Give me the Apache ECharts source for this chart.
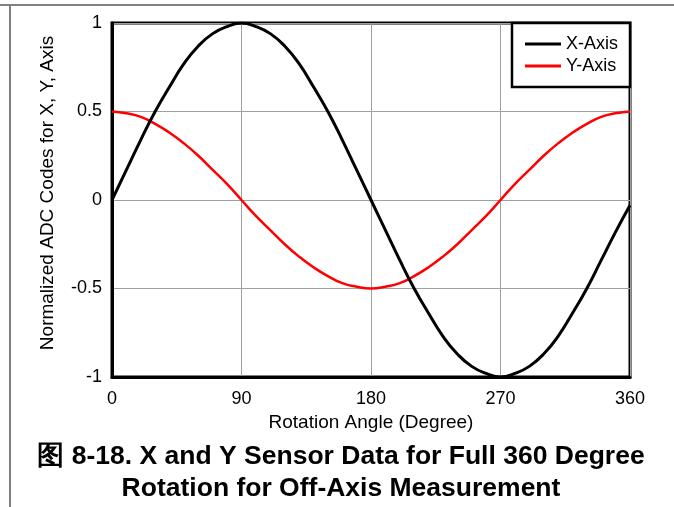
<!DOCTYPE html>
<html>
<head>
<meta charset="utf-8">
<script src="https://cdn.jsdelivr.net/npm/echarts@6/dist/echarts.min.js"></script>
<style>html,body{margin:0;padding:0;background:#fff}#c{width:674px;height:507px}</style>
</head>
<body>
<div id="c"></div>
<script>
var angles = [0,10,20,30,40,50,60,70,80,90,100,110,120,130,140,150,160,170,180,190,200,210,220,230,240,250,260,270,280,290,300,310,320,330,340,350,360];
var xAxisVals = [0,0.17,0.34,0.5,0.64,0.77,0.87,0.94,0.98,1,0.98,0.94,0.87,0.77,0.64,0.5,0.34,0.17,0,-0.17,-0.34,-0.5,-0.64,-0.77,-0.87,-0.94,-0.98,-1,-0.98,-0.94,-0.87,-0.77,-0.64,-0.5,-0.34,-0.18,-0.03];
var yAxisVals = [0.5,0.49,0.47,0.43,0.38,0.32,0.25,0.17,0.09,0,-0.09,-0.17,-0.25,-0.32,-0.38,-0.43,-0.47,-0.49,-0.5,-0.49,-0.47,-0.43,-0.38,-0.32,-0.25,-0.17,-0.09,0,0.09,0.17,0.25,0.32,0.38,0.43,0.47,0.49,0.5];
var seriesNames = ['X-Axis','Y-Axis'];
var xTicks = [0,90,180,270,360];
var yTicks = [-1,-0.5,0,0.5,1];
var xName = 'Rotation Angle (Degree)';
var yName = 'Normalized ADC Codes for X, Y, Axis';
var captionLines = ['图 8-18. X and Y Sensor Data for Full 360 Degree','Rotation for Off-Axis Measurement'];

function pairs(xs, ys){ return xs.map(function(a,i){ return [a, ys[i]]; }); }

var chart = echarts.init(document.getElementById('c'), null, {renderer:'canvas'});
var font = 'Arial, "Liberation Sans", sans-serif';
chart.setOption({
  animation:false,
  backgroundColor:'#fff',
  textStyle:{fontFamily:font},
  grid:{left:112,right:44,top:23,bottom:130,show:true,borderColor:'#000',borderWidth:3,containLabel:false},
  xAxis:{type:'value',min:xTicks[0],max:xTicks[xTicks.length-1],interval:90,
    name:xName,nameLocation:'middle',nameGap:36,nameTextStyle:{fontSize:19,color:'#000',fontFamily:font},
    axisLine:{show:true,onZero:false,lineStyle:{color:'#000',width:3}},axisTick:{show:false},
    axisLabel:{color:'#000',fontSize:18,margin:13,fontFamily:font},
    splitLine:{show:true,lineStyle:{color:'#a0a0a0',width:1}}},
  yAxis:{type:'value',min:yTicks[0],max:yTicks[yTicks.length-1],interval:0.5,
    name:yName,nameLocation:'middle',nameGap:55,nameRotate:90,nameTextStyle:{fontSize:19,color:'#000',fontFamily:font,padding:[0,0,0,14]},
    axisLine:{show:true,onZero:false,lineStyle:{color:'#000',width:3}},axisTick:{show:false},
    axisLabel:{color:'#000',fontSize:18,margin:10,fontFamily:font},
    splitLine:{show:true,lineStyle:{color:'#a0a0a0',width:1}}},
  legend:{data:seriesNames,orient:'vertical',right:44,top:23,
    backgroundColor:'#fff',borderColor:'#000',borderWidth:2.5,borderRadius:0,
    padding:[12,12,12,13],itemGap:4,itemWidth:36,itemHeight:3,icon:'rect',itemTextGap:10,
    textStyle:{fontSize:18,color:'#000',fontFamily:font}},
  series:[
    {name:seriesNames[0],type:'line',data:pairs(angles,xAxisVals),smooth:true,showSymbol:false,
      lineStyle:{color:'#000',width:3},itemStyle:{color:'#000'},z:3},
    {name:seriesNames[1],type:'line',data:pairs(angles,yAxisVals),smooth:true,showSymbol:false,
      lineStyle:{color:'#ff0000',width:2.5},itemStyle:{color:'#ff0000'},z:2}
  ],
  graphic:[
    {type:'line',shape:{x1:0,y1:5,x2:674,y2:5},style:{stroke:'#808080',lineWidth:2},silent:true},
    {type:'line',shape:{x1:10,y1:5,x2:10,y2:507},style:{stroke:'#808080',lineWidth:2},silent:true},
    {type:'text',x:341,y:443,style:{text:captionLines[0],font:'bold 26.5px '+font,fill:'#000',textAlign:'center'}},
    {type:'text',x:341,y:475,style:{text:captionLines[1],font:'bold 26.5px '+font,fill:'#000',textAlign:'center'}}
  ]
});
</script>
</body>
</html>
